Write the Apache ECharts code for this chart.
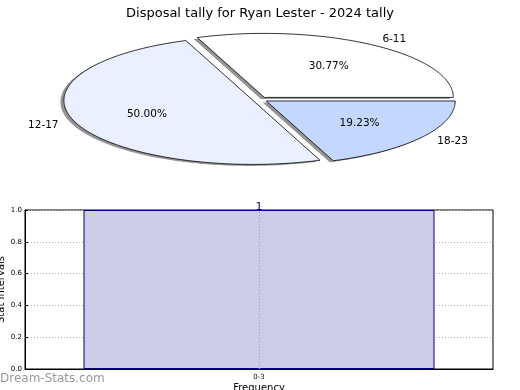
<!DOCTYPE html>
<html>
<head>
<meta charset="utf-8">
<script src="https://cdn.jsdelivr.net/npm/echarts@6/dist/echarts.min.js"></script>
<style>html,body{margin:0;padding:0;background:#fff}#c{width:520px;height:390px}</style>
</head>
<body>
<div id="c"></div>
<script>
// ---- data ----
const pieCategories = ['6-11', '12-17', '18-23'];
const pieValues = [8, 13, 5];
const barCategories = ['0-3'];
const barValues = [1];
const yTicks = [0, 0.2, 0.4, 0.6, 0.8, 1.0];

// ---- styles ----
const pieColors = ['#ffffff', '#eaf0ff', '#c4d7ff'];
const FONT = 'DejaVu Sans';
const CX = 260, CY = 99.5, RX = 189, RY = 64, EXP = 0.04;

const total = pieValues.reduce((a, b) => a + b, 0);
function geom(i) {
  let start = 0;
  for (let k = 0; k < i; k++) start += pieValues[k];
  const a1 = start / total * 2 * Math.PI;
  const a2 = (start + pieValues[i]) / total * 2 * Math.PI;
  const am = (a1 + a2) / 2;
  const ox = CX + EXP * RX * Math.cos(am);
  const oy = CY - EXP * RY * Math.sin(am);
  const pts = [[ox, oy]];
  const n = Math.max(8, Math.ceil((a2 - a1) / (Math.PI / 180)));
  for (let s = 0; s <= n; s++) {
    const a = a1 + (a2 - a1) * s / n;
    pts.push([ox + RX * Math.cos(a), oy - RY * Math.sin(a)]);
  }
  return { pts, am, ox, oy };
}

const chart = echarts.init(document.getElementById('c'), null, { renderer: 'canvas' });
chart.setOption({
  animation: false,
  backgroundColor: '#fff',
  title: {
    text: 'Disposal tally for Ryan Lester - 2024 tally',
    left: 'center', top: 2,
    textStyle: { fontFamily: FONT, fontSize: 13, fontWeight: 'normal', color: '#000' }
  },
  graphic: [{
    type: 'text', left: 0, top: 373,
    style: { text: 'Dream-Stats.com', fill: '#999', font: '12px "DejaVu Sans"' }
  }],
  grid: { left: 25, right: 27, top: 210, bottom: 21, containLabel: false, outerBoundsMode: 'none',
    show: true, borderColor: '#000', borderWidth: 1 },
  xAxis: {
    type: 'category', data: barCategories,
    name: 'Frequency', nameLocation: 'middle', nameGap: 14, nameMoveOverlap: false,
    nameTextStyle: { fontFamily: FONT, fontSize: 10, color: '#000' },
    axisLine: { lineStyle: { color: '#000' } },
    axisTick: { show: false },
    axisLabel: { fontFamily: FONT, fontSize: 7, color: '#000', margin: 5 },
    splitLine: { show: false }
  },
  yAxis: {
    type: 'value', min: 0, max: 1, interval: 0.2,
    name: 'Stat Intervals', nameLocation: 'middle', nameGap: 19, nameMoveOverlap: false,
    nameTextStyle: { fontFamily: FONT, fontSize: 10, color: '#000' },
    axisLine: { show: true, lineStyle: { color: '#000' } },
    axisTick: { show: true, inside: true, length: 3, lineStyle: { color: '#000' } },
    axisLabel: { fontFamily: FONT, fontSize: 7, color: '#000', margin: 3,
      formatter: v => v.toFixed(1) },
    splitLine: { show: true, lineStyle: { color: '#b0b0b0', type: [1, 2], width: 1 } }
  },
  series: [
    {
      type: 'bar', data: barValues, barWidth: '75%', z: 2,
      itemStyle: { color: '#ccccE5', borderColor: '#000080', borderWidth: 1 },
      label: { show: true, position: 'top', distance: -3, color: '#000080', fontFamily: FONT, fontSize: 11 },
      markLine: {
        silent: true, symbol: 'none', label: { show: false },
        lineStyle: { color: '#a0a0a0', type: [1, 2], width: 1 },
        data: [{ xAxis: barCategories[0] }]
      }
    },
    {
      type: 'custom', coordinateSystem: 'none', z: 1,
      data: pieValues.map(v => [v]),
      renderItem: (params) => {
        const g = geom(params.dataIndex);
        return {
          type: 'polygon',
          shape: { points: g.pts.map(p => [p[0] - 3.5, p[1] + 1.5]) },
          style: { fill: '#4d4d4d', opacity: 0.6, stroke: null }
        };
      }
    },
    {
      type: 'custom', coordinateSystem: 'none', z: 3,
      data: pieValues.map(v => [v]),
      renderItem: (params) => {
        const i = params.dataIndex;
        const g = geom(i);
        const c = Math.cos(g.am), s = Math.sin(g.am);
        const lx = g.ox + 1.1 * RX * c, ly = g.oy - 1.1 * RY * s;
        const px = g.ox + 0.6 * RX * c, py = g.oy - 0.6 * RY * s;
        const pct = (pieValues[i] / total * 100).toFixed(2) + '%';
        return {
          type: 'group',
          children: [
            { type: 'polygon', shape: { points: g.pts },
              style: { fill: pieColors[i], stroke: '#000', lineWidth: 0.8 } },
            { type: 'text', style: { text: pieCategories[i], x: lx, y: ly,
                align: c >= 0 ? 'left' : 'right', verticalAlign: 'middle',
                font: '10.5px "DejaVu Sans"', fill: '#000' } },
            { type: 'text', style: { text: pct, x: px, y: py,
                align: 'center', verticalAlign: 'middle',
                font: '10.5px "DejaVu Sans"', fill: '#000' } }
          ]
        };
      }
    }
  ]
});
</script>
</body>
</html>
